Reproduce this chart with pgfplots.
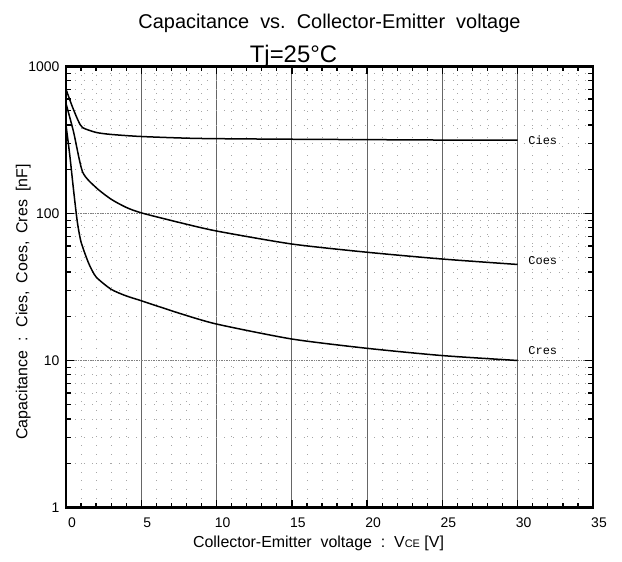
\documentclass[border=0pt]{standalone}
\usepackage{fontspec}
\setmainfont{Liberation Sans}
\newfontfamily\labfont{Liberation Mono}
\usepackage{pgfplots}
\pgfplotsset{compat=1.18}
\begin{document}
\begin{tikzpicture}[x=1bp,y=1bp]
\begin{axis}[
  scale only axis,
  width=527bp, height=441bp,
  xmin=0, xmax=35, ymin=1, ymax=1000,
  ymode=log,
  xtick={0,5,...,35},
  minor x tick num=4,
  ytick={1,10,100,1000},
  yticklabels={1,10,100,1000},
  axis line style={line width=2.4bp},
  tick style={black, line width=1.3bp},
  major tick length=8bp,
  minor tick length=5bp,
  grid=both,
  major x grid style={black!60, line width=0.8bp},
  major y grid style={black!50, line width=0.8bp, dash pattern=on 1bp off 0.7bp},
  minor grid style={black!35, line width=0.8bp, dash pattern=on 0.8bp off 8bp},
  tick label style={font=\fontsize{14}{16}\selectfont},
  xticklabel style={xshift=6bp, yshift=-7bp},
  yticklabel style={xshift=-3bp},
  /pgf/number format/assume math mode=true,
  xlabel={Collector-Emitter\ \ voltage\ \ :\ \ V{\fontsize{11}{12}\selectfont CE} [V]},
  ylabel={Capacitance\hspace{0.6em}:\hspace{0.6em}Cies,\hspace{0.5em}Coes,\hspace{0.5em}Cres\hspace{0.5em}[nF]},
  label style={font=\fontsize{16}{18}\selectfont},
  xlabel style={yshift=-1bp, xshift=-11bp},
  ylabel style={yshift=-9bp, xshift=-15bp},
]
\addplot [black, line width=1.5bp, smooth, tension=0.4] coordinates {
(0,700) (0.4,540) (0.8,430) (1.1,384) (2,356) (3,345) (5,334) (8.8,324)
(15,320) (20,318) (25,316) (30,315)
};
\addplot [black, line width=1.5bp, smooth, tension=0.4] coordinates {
(0,560) (0.5,360) (1.1,192) (2,150) (3,125) (4,110) (5,101) (7.5,87)
(10,76) (15,62) (20,54.5) (25,49) (30,45)
};
\addplot [black, line width=1.5bp, smooth, tension=0.4] coordinates {
(0,400) (0.25,250) (0.5,145) (0.75,88) (1,64) (1.5,46) (2,37) (3,30.5)
(4,27.5) (5,25.5) (7.5,21) (10,17.7) (15,14) (20,12.1) (25,10.8) (30,10)
};
\node[anchor=west, inner sep=0pt, font=\labfont\fontsize{12}{13}\selectfont] at (axis cs:30.7,315) {Cies};
\node[anchor=west, inner sep=0pt, font=\labfont\fontsize{12}{13}\selectfont] at (axis cs:30.7,47.9) {Coes};
\node[anchor=west, inner sep=0pt, font=\labfont\fontsize{12}{13}\selectfont] at (axis cs:30.7,11.6) {Cres};
\end{axis}
\node[anchor=south, inner sep=0pt, font=\fontsize{24}{26}\selectfont] at ([xshift=-36bp,yshift=-1bp]current axis.north) {Tj=25\textdegree C};
\node[font=\fontsize{20}{22}\selectfont] at ([yshift=43bp]current axis.north) {Capacitance\ \ vs.\ \ Collector-Emitter\ \ voltage};
\useasboundingbox ([xshift=-66bp,yshift=-54.5bp]current axis.south west) rectangle ++(622bp,562bp);
\end{tikzpicture}
\end{document}
